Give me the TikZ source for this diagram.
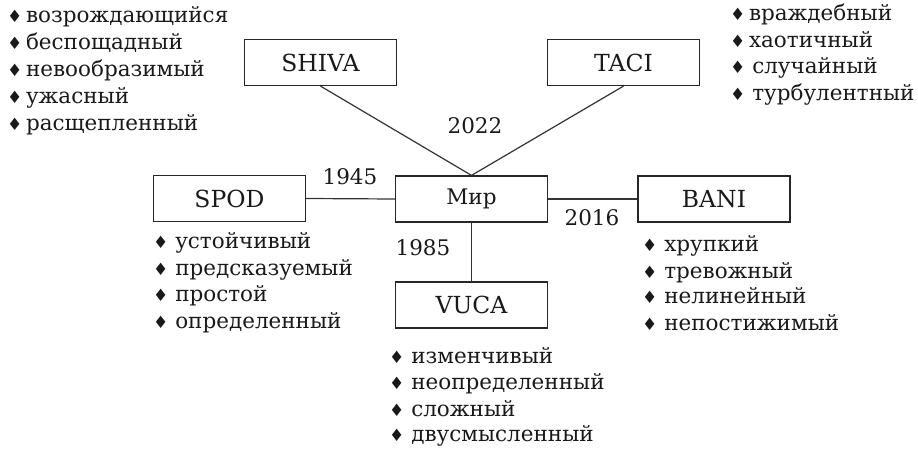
\documentclass[tikz,border=0pt]{standalone}
\usepackage{fontspec}
\setmainfont{DejaVu Serif}
\newfontfamily\symf{DejaVu Sans}
\newcommand{\dia}{{\symf\fontsize{17}{17}\selectfont ♦}}
\tikzset{
  box/.style={draw=black!85, line width=1.2pt, minimum width=152pt, minimum height=46pt, inner sep=0pt, font=\fontsize{23.5}{27}\selectfont, text=black!90},
  conn/.style={draw=black!80, line width=1.2pt},
  item/.style={anchor=west, inner sep=0pt, font=\fontsize{21.5}{26}\selectfont, text height=1.5ex, text depth=0.25ex, text=black!90},
  yr/.style={inner sep=0pt, font=\fontsize{21.5}{26}\selectfont, text height=1.5ex, text depth=0.25ex, text=black!90},
}
\begin{document}
\begin{tikzpicture}[x=1pt,y=-1pt]
\useasboundingbox (0,0) rectangle (918,449);
% boxes
\node[box] (shiva) at (320.5,62.5) {SHIVA};
\node[box] (taci) at (623.5,62.5) {TACI};
\node[box, font=\fontsize{21.5}{26}\selectfont] (mir) at (471.5,199) {Мир};
\node[box] (spod) at (229.5,198.5) {SPOD};
\node[box] (bani) at (714,199) {BANI};
\node[box] (vuca) at (471.5,305) {VUCA};
% connectors
\draw[conn] (shiva.south) -- (mir.north);
\draw[conn] (taci.south) -- (mir.north);
\draw[conn] (spod.east) -- (mir.west);
\draw[conn] (mir.east) -- (bani.west);
\draw[conn] (mir.south) -- (vuca.north);
% years
\node[yr] (y2022) at (475,130) {2022};
\node[yr] (y1945) at (350,181) {1945};
\node[yr] (y2016) at (592,222) {2016};
\node[yr] (y1985) at (423,252) {1985};
% top-left list
\node[item] (a1) at (7,19) {\dia\,возрождающийся};
\node[item] (a2) at (7,46) {\dia\,беспощадный};
\node[item] (a3) at (7,73) {\dia\,невообразимый};
\node[item] (a4) at (7,100) {\dia\,ужасный};
\node[item] (a5) at (7,127) {\dia\,расщепленный};
% top-right list
\node[item] (b1) at (730,17) {\dia\,враждебный};
\node[item] (b2) at (730,44) {\dia\,хаотичный};
\node[item] (b3) at (730,70) {\dia\ случайный};
\node[item] (b4) at (730,97) {\dia\ турбулентный};
% SPOD list
\node[item] (c1) at (153,245) {\dia\ устойчивый};
\node[item] (c2) at (153,272) {\dia\ предсказуемый};
\node[item] (c3) at (153,298) {\dia\ простой};
\node[item] (c4) at (153,325) {\dia\ определенный};
% VUCA list
\node[item] (d1) at (389,360) {\dia\ изменчивый};
\node[item] (d2) at (389,386) {\dia\ неопределенный};
\node[item] (d3) at (389,413) {\dia\ сложный};
\node[item] (d4) at (389,438) {\dia\ двусмысленный};
% BANI list
\node[item] (e1) at (642,248) {\dia\ хрупкий};
\node[item] (e2) at (642,275) {\dia\ тревожный};
\node[item] (e3) at (642,300) {\dia\ нелинейный};
\node[item] (e4) at (642,327) {\dia\ непостижимый};
\end{tikzpicture}
\end{document}
